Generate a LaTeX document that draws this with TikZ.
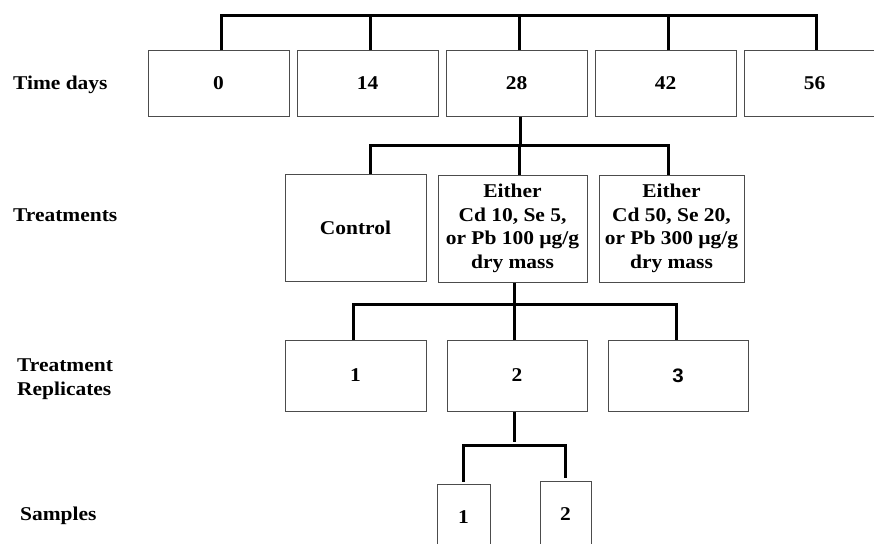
\documentclass[tikz,border=0pt]{standalone}
\usepackage{fontspec}
\setmainfont{Liberation Serif}[FakeStretch=1.1]
\newfontfamily\sansnum{Liberation Sans}[FakeStretch=1.05]
\usepackage{tikz}
\usetikzlibrary{calc}

\tikzset{
	box/.style={draw=black!70, line width=1pt, inner sep=0pt, align=center},
	daybox/.style={box, minimum width=141pt, minimum height=65pt},
	link/.style={line width=3pt},
	rowlabel/.style={anchor=west, align=left, inner sep=0pt}
}

\begin{document}
\begin{tikzpicture}[x=1pt, y=-1pt, font=\fontsize{19.5}{23.5}\selectfont\bfseries]
		%%%%% START %%%%%
		
		\useasboundingbox (0, 0) rectangle (874, 543);
		\clip (0, 0) rectangle (874, 543);
		
		% row labels
		\node[rowlabel] (lday) at (13, 85) {Time days};
		\node[rowlabel] (ltreat) at (13, 215) {Treatments};
		\node[rowlabel] (lrep) at (17, 379) {Treatment\\Replicates};
		\node[rowlabel] (lsamp) at (20, 516) {Samples};
		
		% time
		\foreach \d/\x in {0/218.5, 14/367.5, 28/516.5, 42/665.5, 56/814.5}
			\node[daybox] (d\d) at (\x, 83.5) {\d};
		
		\coordinate (top) at (0, 15.5);
		\draw[link] ([xshift=2.5pt]d0.north) |- ([xshift=1.5pt]d56.north |- top) -- ([xshift=1.5pt]d56.north);
		\foreach \n in {d14, d28, d42}
			\draw[link] ([xshift=2.5pt]\n.north) -- ([xshift=2.5pt]\n.north |- top);
		
		% treatments
		\node[box, minimum width=141pt, minimum height=107pt] (ctrl) at (355.5, 227.5) {Control};
		\node[box, minimum width=149pt, minimum height=107pt] (trA) at (512.5, 228.5) {Either\\Cd 10, Se 5,\\or Pb 100 µg/g\\dry mass};
		\node[box, minimum width=145pt, minimum height=107pt] (trB) at (671.5, 228.5) {Either\\Cd 50, Se 20,\\or Pb 300 µg/g\\dry mass};
		
		\coordinate (tj) at (0, 145);
		\draw[link] ([xshift=3.5pt]d28.south) -- ([xshift=3.5pt]d28.south |- tj);
		\draw[link] ([xshift=14.5pt]ctrl.north) |- ([xshift=-3.5pt]trB.north |- tj) -- ([xshift=-3.5pt]trB.north);
		\draw[link] ([xshift=6.5pt]trA.north) -- ([xshift=6.5pt]trA.north |- tj);
		
		% replicates
		\node[box, minimum width=141pt, minimum height=71pt] (r1) at (355.5, 375.5) {1};
		\node[box, minimum width=140pt, minimum height=71pt] (r2) at (517, 375.5) {2};
		\node[box, minimum width=140pt, minimum height=71pt] (r3) at (678, 375.5) {\sansnum 3};
		
		\coordinate (rj) at (0, 304.5);
		\draw[link] ([xshift=1.5pt]trA.south) -- ([xshift=1.5pt]trA.south |- rj);
		\draw[link] ([xshift=-2.5pt]r1.north) |- ([xshift=-2pt]r3.north |- rj) -- ([xshift=-2pt]r3.north);
		\draw[link] ([xshift=-2.5pt]r2.north) -- ([xshift=-2.5pt]r2.north |- rj);
		\draw[link] ([xshift=-2.5pt]r2.south) -- ++(0, 30);
		
		% samples
		\node[box, anchor=north, minimum width=53pt, minimum height=65pt] (s1) at (463.5, 484.3) {1};
		\node[box, anchor=north, minimum width=51pt, minimum height=66pt] (s2) at (565.5, 481) {2};
		
		\coordinate (sj) at (0, 445.5);
		\draw[link] ([yshift=2.6pt]s1.north) |- (s2.north |- sj) -- ([yshift=3pt]s2.north);
		
		%%%%% END %%%%%
	\end{tikzpicture}
\end{document}
